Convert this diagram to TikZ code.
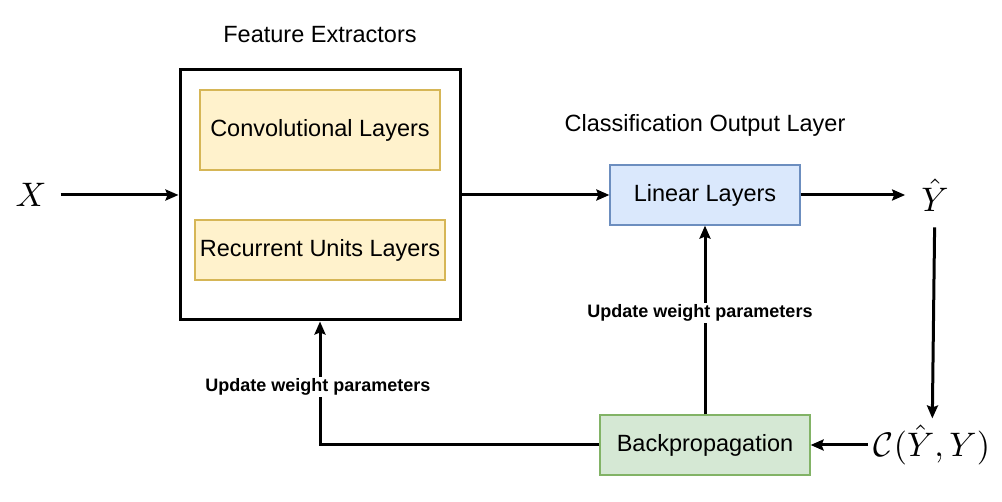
\documentclass[tikz,border=0pt]{standalone}
\usepackage{amsmath}
\usepackage{amssymb}
\usepackage{graphicx}
\usepackage{fontspec}
\setmainfont{Liberation Sans}
\usepackage{tikz}
\usetikzlibrary{arrows.meta}
\usetikzlibrary{positioning}
\usetikzlibrary{calc}
\definecolor{convfill}{HTML}{FFF2CC}
\definecolor{convline}{HTML}{D6B656}
\definecolor{linfill}{HTML}{DAE8FC}
\definecolor{linline}{HTML}{6C8EBF}
\definecolor{bpfill}{HTML}{D5E8D4}
\definecolor{bpline}{HTML}{82B366}
\tikzset{
title/.style = {font=\fontsize{23.5}{27}\selectfont},
layer/.style = {draw=#1line, fill=#1fill, line width=1.2pt,
                font=\fontsize{23.5}{27}\selectfont, inner sep=0pt},
layer/.default = conv,
sym/.style = {inner sep=14pt},
arr/.style = {line width=3pt, -{Stealth[length=13pt,width=11pt,inset=2pt]}},
upd/.style = {fill=white, font=\bfseries\fontsize{18}{21}\selectfont,
              inner sep=2pt}
}
\newcommand{\link}[2]{\draw[arr] (#1) -- (#2);}
\newcommand{\bigmath}[1]{\scalebox{3.4}{$#1$}}

\begin{document}
\begin{tikzpicture}[x=1pt,y=-1pt]
        \useasboundingbox (0,0) rectangle (1002,502);
        % feature extractors
        \node[title] (fetitle) at (320,35) {Feature Extractors};
        \node[draw, line width=3pt, minimum width=280pt, minimum height=250pt] (ext) at (320,195) {};
        \node[layer=conv, minimum width=240pt, minimum height=80pt] (conv) at (320,130) {Convolutional Layers};
        \node[layer=conv, minimum width=250pt, minimum height=60pt] (rec) at (320,250) {Recurrent Units Layers};
        % classification
        \node[title] (cltitle) at (705,125) {Classification Output Layer};
        \node[layer=lin, minimum width=190pt, minimum height=60pt] (lin) at (705,195) {Linear Layers};
        \node[layer=bp, minimum width=210pt, minimum height=60pt] (bp) at (705,445) {Backpropagation};
        % symbols
        \node[sym] (x) at (31,195) {\bigmath{X}};
        \node[sym, inner sep=16pt] (yhat) at (935,195) {\bigmath{\hat{Y}}};
        \node[sym, inner sep=6pt] (cost) at (932,445) {\bigmath{\mathcal{C}(\hat{Y},Y)}};
        \link{x}{ext};
        \link{ext}{lin};
        \link{lin}{yhat};
        \link{yhat}{cost};
        \link{cost}{bp};
        \link{bp}{lin};
        \draw[arr] (bp.west) -| (ext.south);
        \node[upd] (updlin) at (700,313) {Update weight parameters};
        \node[upd] (updext) at (318,387) {Update weight parameters};
\end{tikzpicture}
\end{document}
